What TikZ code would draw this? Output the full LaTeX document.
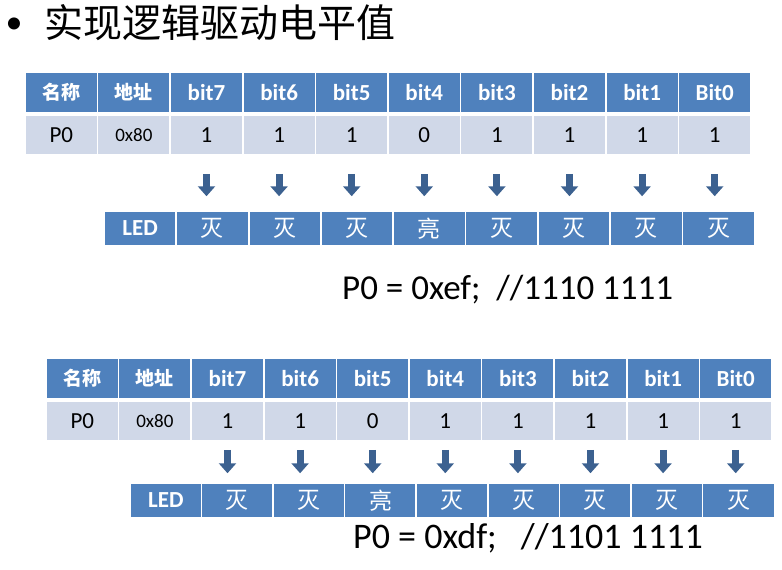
\documentclass[tikz,border=0pt]{standalone}
\usepackage{fontspec}
\setmainfont{Carlito}
\newfontfamily\cjk{Noto Sans CJK SC}
\usetikzlibrary{arrows.meta}
\definecolor{hdrblue}{RGB}{79,129,189}
\definecolor{rowgray}{RGB}{208,216,232}
\definecolor{arrowblue}{RGB}{60,97,144}
\newcommand{\addrfont}{\fontsize{19}{19}\selectfont}
\newcommand{\hdrchar}[1]{{\cjk\fontsize{19}{19}\selectfont #1}}
\newcommand{\ledchar}[1]{{\cjk\mdseries #1}}

\begin{document}
\begin{tikzpicture}[x=1pt,y=-1pt,
  hdrcell/.style={rectangle,inner sep=0pt,minimum width=72.6pt,minimum height=40pt,
    fill=hdrblue,draw=white,line width=1.5pt,text=white,
    font=\fontsize{23}{23}\selectfont\bfseries},
  datcell/.style={hdrcell,fill=rowgray,text=black,font=\fontsize{23}{23}\selectfont},
  ledcell/.style={hdrcell,minimum width=72pt,minimum height=35pt},
  bitarrow/.style={draw=arrowblue,line width=7pt,-{Triangle[width=17pt,length=10pt]}}]
\useasboundingbox (0,0) rectangle (782,570);
% title
\node (dot) at (14,26) {\fontsize{34}{34}\selectfont •};
\node[anchor=west,inner sep=0pt] (title) at (44,23) {\cjk\fontsize{39}{39}\selectfont 实现逻辑驱动电平值};
% first table, P0 = 0xef
\foreach \lbl [count=\i from 0] in {\hdrchar{名称},\hdrchar{地址},bit7,bit6,bit5,bit4,bit3,bit2,bit1,Bit0}
  \node[hdrcell] (h1-\i) at (25+72.6*\i+36.3,92.5) {\lbl};
\foreach \val [count=\i from 0] in {P0,{\addrfont 0x80},1,1,1,0,1,1,1,1}
  \node[datcell] (d1-\i) at (25+72.6*\i+36.3,135) {\val};
\foreach \val [count=\i from 0] in {LED,\ledchar{灭},\ledchar{灭},\ledchar{灭},\ledchar{亮},\ledchar{灭},\ledchar{灭},\ledchar{灭},\ledchar{灭}}
  \node[ledcell] (l1-\i) at (104+72.3*\i+36.15,228.5) {\val};
\foreach \i [evaluate=\i as \j using int(\i-1)] in {2,...,9}
  \draw[bitarrow] ([yshift=-18pt]d1-\i.south) -- ([yshift=14pt]d1-\i.south |- l1-\j.north);
\node[anchor=base west,inner sep=0pt,font=\fontsize{35}{35}\selectfont] (code1) at (342,299) {P0 = 0xef;\ \ //1110 1111};
% second table, P0 = 0xdf
\foreach \lbl [count=\i from 0] in {\hdrchar{名称},\hdrchar{地址},bit7,bit6,bit5,bit4,bit3,bit2,bit1,Bit0}
  \node[hdrcell] (h2-\i) at (46+72.6*\i+36.3,378.5) {\lbl};
\foreach \val [count=\i from 0] in {P0,{\addrfont 0x80},1,1,0,1,1,1,1,1}
  \node[datcell] (d2-\i) at (46+72.6*\i+36.3,421) {\val};
\foreach \val [count=\i from 0] in {LED,\ledchar{灭},\ledchar{灭},\ledchar{亮},\ledchar{灭},\ledchar{灭},\ledchar{灭},\ledchar{灭},\ledchar{灭}}
  \node[ledcell] (l2-\i) at (130+71.6*\i+35.8,500.5) {\val};
\foreach \i [evaluate=\i as \j using int(\i-1)] in {2,...,9}
  \draw[bitarrow] ([yshift=-8pt]d2-\i.south) -- ([yshift=9pt]d2-\i.south |- l2-\j.north);
\node[anchor=base west,inner sep=0pt,font=\fontsize{36}{36}\selectfont] (code2) at (353,548) {P0 = 0xdf;\hspace{24pt}//1101 1111};
\end{tikzpicture}
\end{document}
